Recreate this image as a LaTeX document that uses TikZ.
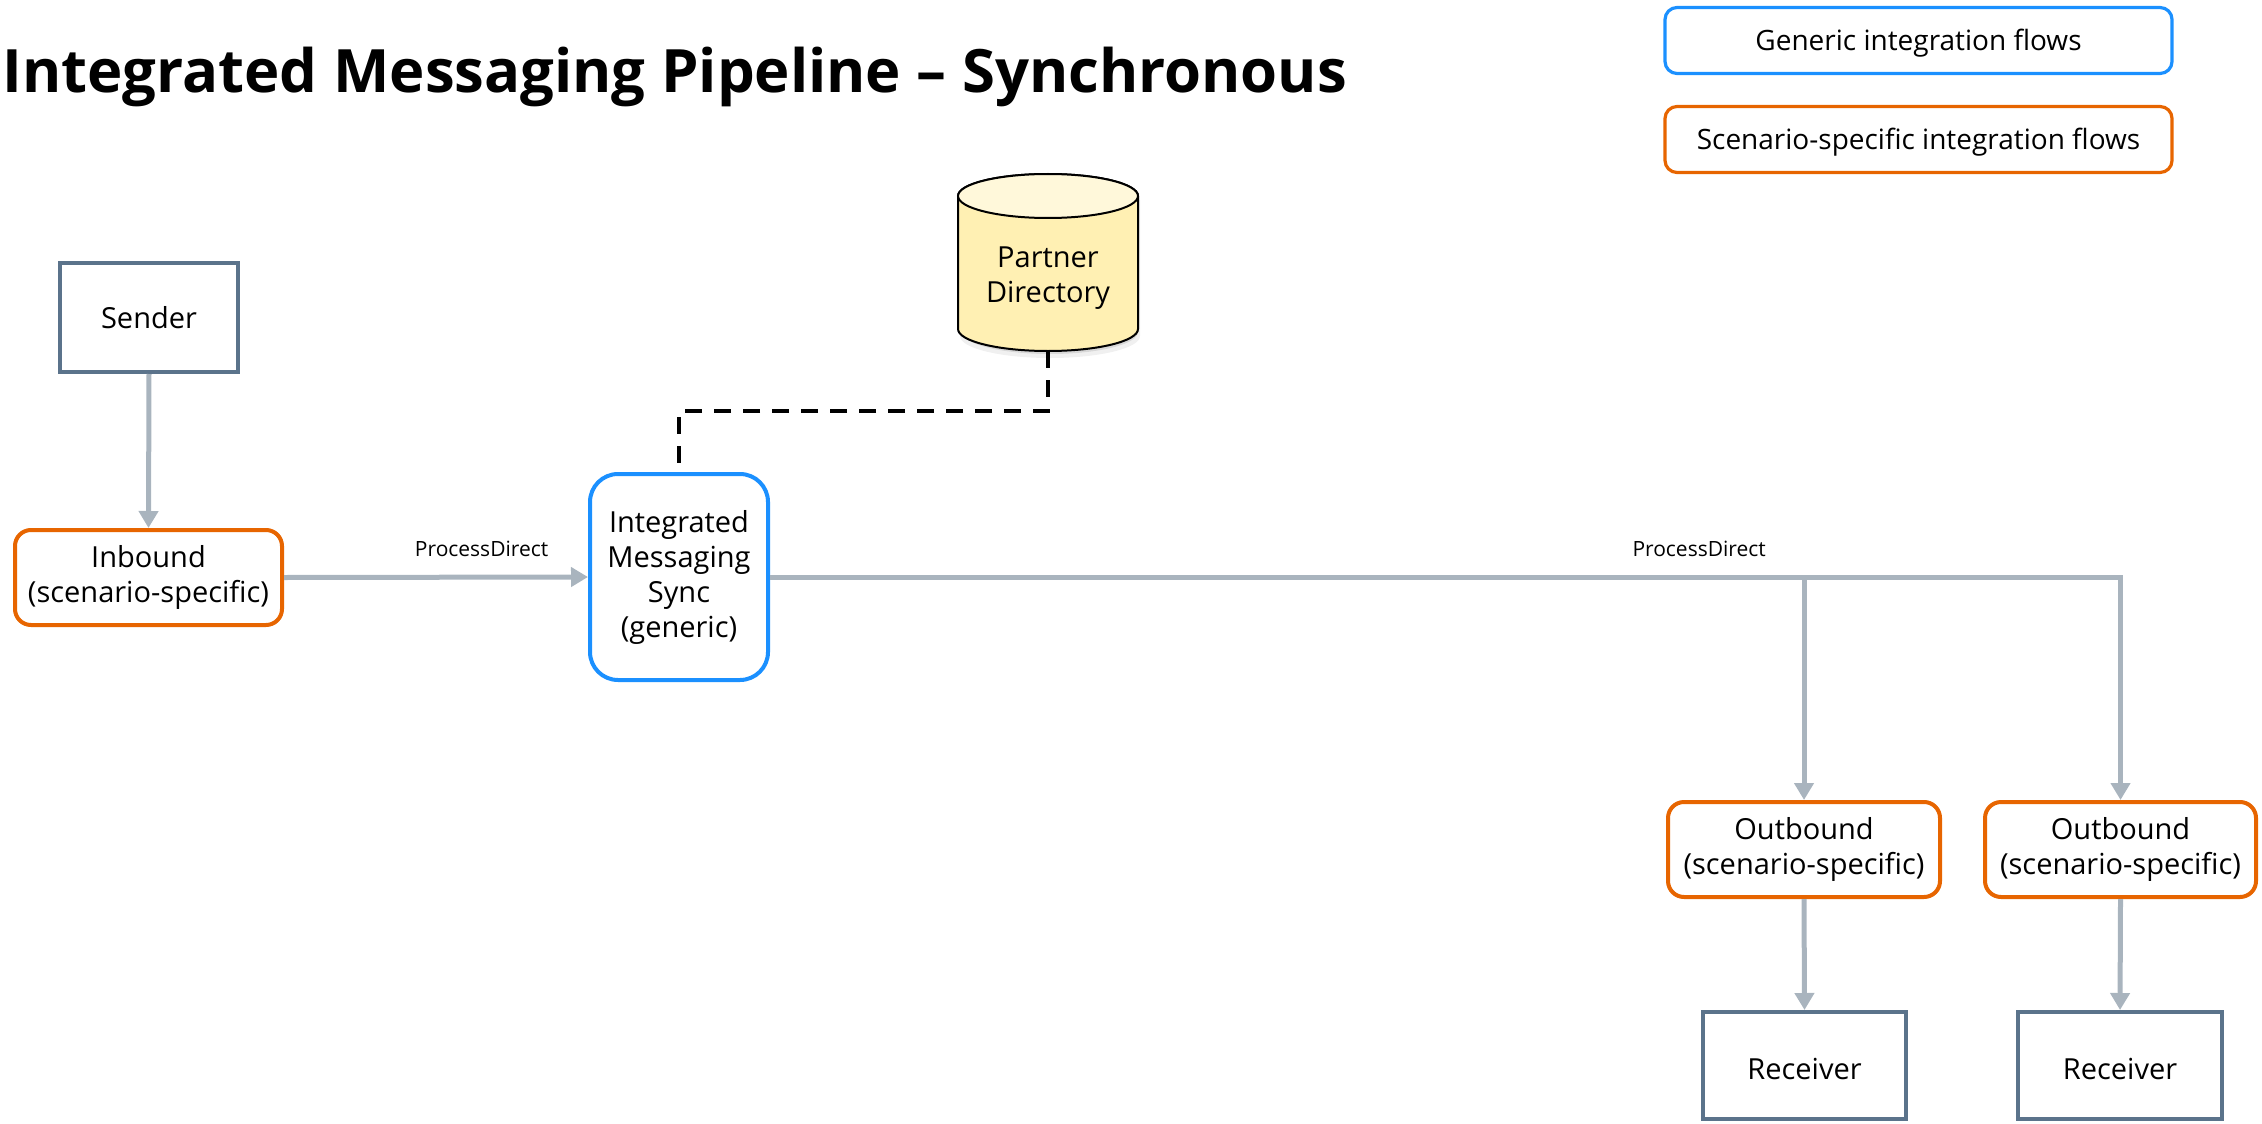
\documentclass[tikz,border=0pt]{standalone}
\usepackage{fontspec}
\setmainfont{Open Sans}
\usetikzlibrary{arrows.meta}
\definecolor{sapOrange}{HTML}{E76500}
\definecolor{sapBlue}{HTML}{1B90FF}
\definecolor{boxGray}{HTML}{5B738B}
\definecolor{lineGray}{HTML}{A9B4BE}
\definecolor{pdYellow}{HTML}{FFF0B3}
\definecolor{pdTop}{HTML}{FFF8DA}
\begin{document}
\begin{tikzpicture}[x=0.5pt,y=-0.5pt,
  every node/.style={font=\fontsize{14.5pt}{17.5pt}\selectfont, align=center, inner sep=0pt},
  flowarrow/.style={draw=lineGray, line width=2.5pt, -{Triangle[length=8.5pt,width=9.5pt]}},
  scen/.style={draw=sapOrange, line width=2pt, rounded corners=8pt, fill=white},
  gen/.style={draw=sapBlue, line width=2pt, rounded corners=14pt, fill=white},
  sys/.style={draw=boxGray, line width=2pt, fill=white},
  legendbox/.style={line width=1.6pt, rounded corners=6pt, minimum width=253.5pt, minimum height=33pt, text height=10.5pt, text depth=0pt, font=\fontsize{14pt}{17pt}\selectfont},
  lbl/.style={font=\fontsize{10.5pt}{12pt}\selectfont},
  link/.style={draw=black, line width=2pt, dash pattern=on 8.5pt off 6pt}]
\useasboundingbox (0,0) rectangle (2262,1123);

% title
\node[anchor=base west, font=\bfseries\fontsize{29.9pt}{30pt}\selectfont] (title) at (2,93) {Integrated Messaging Pipeline – Synchronous};

% legend
\node[legendbox, draw=sapBlue] (leg1) at (1918.5,40.5) {Generic integration flows};
\node[legendbox, draw=sapOrange] (leg2) at (1918.5,139.5) {Scenario-specific integration flows};

% partner directory cylinder
\fill[black, opacity=0.06] (960,200) -- (960,336) arc[start angle=180, end angle=360, x radius=45pt, y radius=11pt] -- (1140,200) -- cycle;
\fill[black, opacity=0.10] (962,200) -- (962,332) arc[start angle=180, end angle=360, x radius=44pt, y radius=11pt] -- (1138,200) -- cycle;
\filldraw[fill=pdYellow, draw=black, line width=1pt] (958,196) -- (958,329) arc[start angle=180, end angle=360, x radius=45pt, y radius=11pt] -- (1138,196) arc[start angle=0, end angle=180, x radius=45pt, y radius=11pt] -- cycle;
\filldraw[fill=pdTop, draw=black, line width=1pt] (1048,196) ellipse[x radius=45pt, y radius=11pt];
\node (pd) at (1048,278) {Partner\\Directory};
\coordinate (pdbot) at (1048,351);

% nodes
\node[sys, minimum width=89pt, minimum height=54.5pt] (sender) at (149,317.5) {Sender};
\node[scen, minimum width=133.5pt, minimum height=47.5pt] (inbound) at (148.5,577.5) {Inbound\\(scenario-specific)};
\node[gen, minimum width=89pt, minimum height=103pt] (sync) at (679,577) {Integrated\\Messaging\\Sync\\(generic)};
\node[scen, minimum width=136pt, minimum height=47.5pt] (out1) at (1804,849.5) {Outbound\\(scenario-specific)};
\node[scen, minimum width=135.5pt, minimum height=47.5pt] (out2) at (2120.5,849.5) {Outbound\\(scenario-specific)};
\node[sys, minimum width=101.5pt, minimum height=53.5pt, text height=14pt, text depth=0pt] (rec1) at (1804.5,1065.5) {Receiver};
\node[sys, minimum width=102pt, minimum height=53.5pt, text height=14pt, text depth=0pt] (rec2) at (2120,1065.5) {Receiver};

% connectors
\draw[link] (pdbot) -- ++(0,60) -| (sync.north);
\draw[flowarrow] (sender.south) -- (inbound.north);
\draw[flowarrow] (inbound.east) -- node[lbl, pos=0.65, above=9pt] {ProcessDirect} (sync.west);
\draw[flowarrow] (sync.east) -| node[lbl, pos=0.344, above=9pt] {ProcessDirect} (out2.north);
\coordinate (split) at (out1.north |- sync.east);
\draw[flowarrow] (split) -- (out1.north);
\draw[flowarrow] (out1.south) -- (rec1.north);
\draw[flowarrow] (out2.south) -- (rec2.north);
\end{tikzpicture}
\end{document}
